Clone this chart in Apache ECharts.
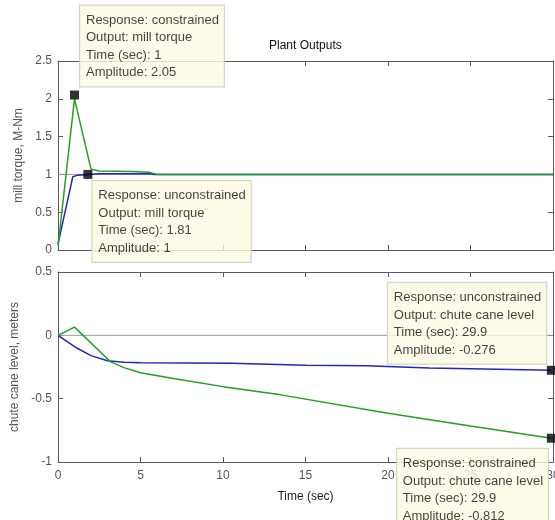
<!DOCTYPE html>
<html>
<head>
<meta charset="UTF-8">
<title>Plant Outputs</title>
<script src="https://cdn.jsdelivr.net/npm/echarts@6/dist/echarts.min.js"></script>
<style>
  html,body{margin:0;height:100%;background:#fff;}
  #chart{width:555px;height:520px;}
</style>
</head>
<body>
<div id="chart"></div>
<script>
// step response samples [time, value]
const torqueConstrained   = [[0,0.05],[1,2.0],[2,1.07],[2.5,1.045],[4.5,1.04],[5.5,1.03],[6,1.0],[30,1.0]];
const torqueUnconstrained = [[0,0.08],[0.9,0.97],[1.2,0.99],[1.81,1.0],[2.5,1.01],[5.6,1.01],[5.8,1.0],[30,1.0]];
const levelConstrained    = [[0,0],[1,0.065],[3.2,-0.21],[4,-0.255],[5,-0.295],[7,-0.34],[10,-0.405],[13.5,-0.47],[20,-0.615],[25,-0.715],[29.9,-0.812]];
const levelUnconstrained  = [[0,0],[1,-0.09],[2,-0.16],[3,-0.2],[4,-0.213],[5,-0.217],[10.5,-0.22],[10.6,-0.228],[15,-0.236],[18.7,-0.24],[18.8,-0.25],[22.5,-0.258],[22.6,-0.268],[29.9,-0.276]];

// steady-state reference lines
const torqueRef = [[0,1],[30,1]];
const levelRef  = [[0,0],[30,0]];

// data tips
const tipResponse = ['constrained','unconstrained','unconstrained','constrained'];
const tipOutput   = ['mill torque','mill torque','chute cane level','chute cane level'];
const tipTime     = [1, 1.81, 29.9, 29.9];
const tipAmp      = [2.05, 1, -0.276, -0.812];

const xTicks = [0,5,10,15,20,25,30];
const torqueTicks = [0,0.5,1,1.5,2,2.5];
const levelTicks = [-1,-0.5,0,0.5];

const font = '"Liberation Sans", Arial, sans-serif';
const green = '#22a022', blue = '#2424c4', frame = '#5a5a5a', txt = '#555';

const chart = echarts.init(document.getElementById('chart'));

function xAx(grid, pos, labels, name){
  return {
    type:'value', gridIndex:grid, position:pos, min:xTicks[0], max:xTicks[xTicks.length-1], interval:5,
    axisLine:{show:true,onZero:false,lineStyle:{color:frame}},
    axisTick:{show:true,inside:true,length:5,lineStyle:{color:frame}},
    axisLabel:{show:labels,color:txt,fontFamily:font,fontSize:12,margin:8},
    splitLine:{show:false},
    name:name||'', nameLocation:'middle', nameGap:29,
    nameTextStyle:{color:'#222',fontFamily:font,fontSize:12}
  };
}
function yAx(grid, pos, ticks, labels, name, gap){
  return {
    type:'value', gridIndex:grid, position:pos, min:ticks[0], max:ticks[ticks.length-1], interval:0.5,
    axisLine:{show:true,onZero:false,lineStyle:{color:frame}},
    axisTick:{show:true,inside:true,length:5,lineStyle:{color:frame}},
    axisLabel:{show:labels,color:txt,fontFamily:font,fontSize:12,margin:6},
    splitLine:{show:false},
    name:name||'', nameLocation:'middle', nameGap:gap||30,
    nameTextStyle:{color:txt,fontFamily:font,fontSize:12}
  };
}

function line(data, color, xi, yi, z, w){
  return {type:'line', data, xAxisIndex:xi, yAxisIndex:yi, symbol:'none', z,
    lineStyle:{color, width:w||1.5}, silent:true};
}
function tip(i, xi, yi, offset){
  return {type:'scatter', xAxisIndex:xi, yAxisIndex:yi, z:10,
    data:[[tipTime[i], tipAmp[i]]], symbol:'rect', symbolSize:9,
    itemStyle:{color:'#000'},
    label:{show:true, position:offset, align:'left', verticalAlign:'top',
      formatter:() => ['Response: '+tipResponse[i], 'Output: '+tipOutput[i],
        'Time (sec): '+tipTime[i], 'Amplitude: '+tipAmp[i]].join('\n'),
      color:'#111', fontFamily:font, fontSize:13, lineHeight:17.5,
      backgroundColor:'#fbfbe4', borderColor:'#c8c8b8', borderWidth:1,
      padding:[6,5,5,6]}};
}

chart.setOption({
  backgroundColor:'#fff',
  animation:false,
  title:{text:'Plant Outputs', left:264, top:35,
    textStyle:{color:'#111',fontFamily:font,fontSize:12,fontWeight:'normal'}},
  grid:[
    {left:58, top:61, width:495, height:189, outerBoundsMode:'none', containLabel:false},
    {left:58, top:272, width:495, height:190, outerBoundsMode:'none', containLabel:false}
  ],
  xAxis:[
    xAx(0,'bottom',false), xAx(0,'top',false),
    xAx(1,'bottom',true,'Time (sec)'), xAx(1,'top',false)
  ],
  yAxis:[
    yAx(0,'left',torqueTicks,true,'mill torque, M-Nm',31), yAx(0,'right',torqueTicks,false),
    yAx(1,'left',levelTicks,true,'chute cane level, meters',33), yAx(1,'right',levelTicks,false)
  ],
  series:[
    line(torqueRef, '#9a9a9a', 0, 0, 1, 1),
    line(levelRef, '#9a9a9a', 2, 2, 1, 1),
    line(torqueUnconstrained, blue, 0, 0, 3),
    line(torqueConstrained, green, 0, 0, 4),
    line(levelUnconstrained, blue, 2, 2, 3),
    line(levelConstrained, green, 2, 2, 4),
    tip(0, 0, 0, [10,-85]),
    tip(1, 0, 0, [9,11]),
    tip(2, 2, 2, [-159,-83]),
    tip(3, 2, 2, [-150,15])
  ]
});
</script>
</body>
</html>
